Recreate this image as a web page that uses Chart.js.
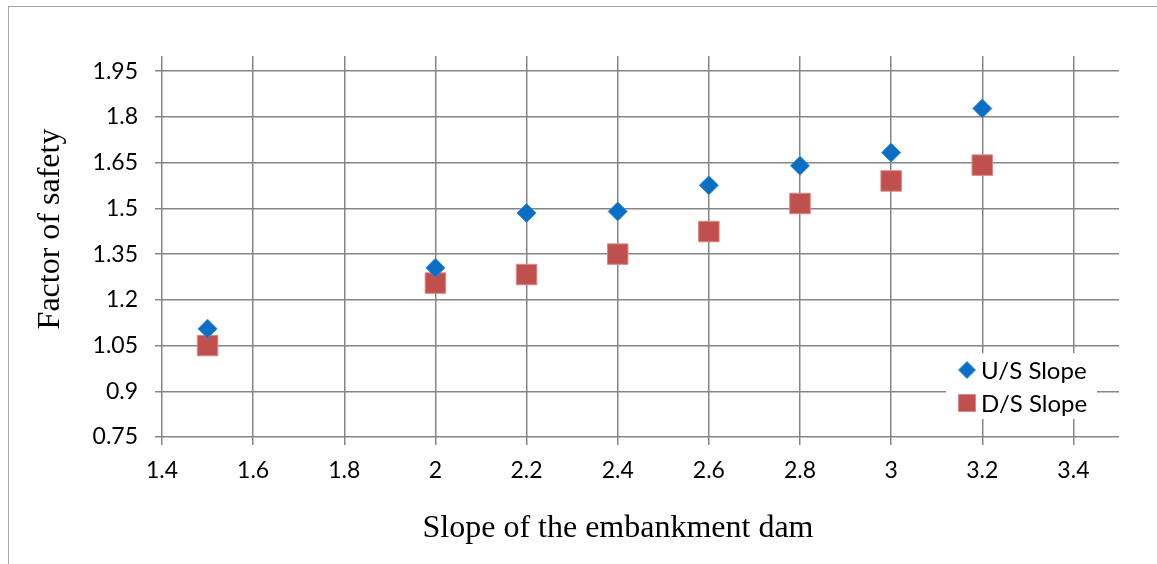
<!DOCTYPE html>
<html>
<head>
<meta charset="utf-8">
<script src="https://cdn.jsdelivr.net/npm/chart.js@4.4.1/dist/chart.umd.min.js"></script>
<style>
  html, body { margin: 0; padding: 0; background: #fff; overflow: hidden; }
  #wrap { position: relative; width: 1157px; height: 564px; }
  #frame { position: absolute; left: 8px; top: 6px; width: 1300px; height: 700px;
           border-top: 1px solid #a6a6a6; border-left: 1px solid #a6a6a6; }
  canvas { position: absolute; left: 0; top: 0; }
</style>
</head>
<body>
<div id="wrap">
  <div id="frame"></div>
  <canvas id="chart" width="1157" height="564"></canvas>
</div>
<script>
// slope ratio (H:V) vs factor of safety
const slopes = [1.5, 2, 2.2, 2.4, 2.6, 2.8, 3, 3.2];
const usFos = [1.105, 1.305, 1.485, 1.49, 1.576, 1.64, 1.683, 1.828];
const dsFos = [1.05, 1.255, 1.283, 1.35, 1.424, 1.516, 1.59, 1.642];

const xTicks = [1.4, 1.6, 1.8, 2, 2.2, 2.4, 2.6, 2.8, 3, 3.2, 3.4];
const xTickLabels = ['1.4', '1.6', '1.8', '2', '2.2', '2.4', '2.6', '2.8', '3', '3.2', '3.4'];
const yTicks = [0.75, 0.9, 1.05, 1.2, 1.35, 1.5, 1.65, 1.8, 1.95];
const yTickLabels = ['0.75', '0.9', '1.05', '1.2', '1.35', '1.5', '1.65', '1.8', '1.95'];

const seriesNames = ['U/S Slope', 'D/S Slope'];
const xTitle = 'Slope of the embankment dam';
const yTitle = 'Factor of safety';

const BLUE = '#0a6fc4';
const RED = '#c0504d';
const GRID = '#858585';
const TICK_FONT = { family: 'Lato', size: 23 };

const toPoints = (ys) => slopes.map((x, i) => ({ x: x, y: ys[i] }));

// axis titles and the legend box sitting inside the plot
const extras = {
  id: 'extras',
  afterDraw(chart) {
    const ctx = chart.ctx;
    const h = Chart.helpers;
    ctx.save();
    ctx.fillStyle = '#000';
    ctx.font = '32px "Liberation Serif"';
    ctx.textAlign = 'center';
    ctx.textBaseline = 'alphabetic';
    ctx.fillText(xTitle, 618, 537);
    ctx.save();
    ctx.translate(59, 229);
    ctx.rotate(-Math.PI / 2);
    ctx.fillText(yTitle, 0, 0);
    ctx.restore();

    ctx.fillStyle = '#fff';
    ctx.fillRect(946, 353, 151, 66);

    ctx.fillStyle = BLUE;
    ctx.strokeStyle = '#3a8ad6';
    ctx.lineWidth = 1;
    h.drawPoint(ctx, { pointStyle: 'rectRot', radius: 8.5, rotation: 0, borderWidth: 1 }, 967, 370);
    ctx.fillStyle = RED;
    ctx.strokeStyle = '#d98a88';
    h.drawPoint(ctx, { pointStyle: 'rect', radius: 12, rotation: 0, borderWidth: 1 }, 967, 403);

    ctx.fillStyle = '#000';
    ctx.font = '24px Lato';
    ctx.textAlign = 'left';
    ctx.textBaseline = 'middle';
    ctx.fillText(seriesNames[0], 981, 371);
    ctx.fillText(seriesNames[1], 981, 404);
    ctx.restore();
  }
};

new Chart(document.getElementById('chart'), {
  type: 'scatter',
  data: {
    datasets: [
      {
        label: seriesNames[0],
        data: toPoints(usFos),
        pointStyle: 'rectRot',
        pointRadius: 9.5,
        pointHoverRadius: 9.5,
        backgroundColor: BLUE,
        borderColor: '#3a8ad6',
        borderWidth: 1
      },
      {
        label: seriesNames[1],
        data: toPoints(dsFos),
        pointStyle: 'rect',
        pointRadius: 14.5,
        pointHoverRadius: 14.5,
        backgroundColor: RED,
        borderColor: '#d98a88',
        borderWidth: 1
      }
    ]
  },
  options: {
    responsive: false,
    animation: false,
    layout: { padding: { left: 0, right: 38, top: 56, bottom: 0 } },
    plugins: {
      legend: { display: false },
      tooltip: { enabled: false }
    },
    scales: {
      x: {
        type: 'linear',
        min: 1.4,
        max: 3.5,
        afterBuildTicks: (scale) => { scale.ticks = xTicks.map(v => ({ value: v })); },
        afterFit: (scale) => { scale.height = 127; },
        grid: { color: GRID, lineWidth: 1.5, tickLength: 8, tickColor: GRID },
        border: { display: false },
        ticks: {
          font: TICK_FONT,
          color: '#000',
          padding: 12,
          maxRotation: 0,
          autoSkip: false,
          callback: (v, i) => xTickLabels[i]
        }
      },
      y: {
        type: 'linear',
        min: 0.75,
        max: 2.0,
        afterBuildTicks: (scale) => { scale.ticks = yTicks.map(v => ({ value: v })); },
        afterFit: (scale) => { scale.width = 162; },
        grid: { color: GRID, lineWidth: 1.5, tickLength: 7, tickColor: GRID },
        border: { display: false },
        ticks: {
          font: TICK_FONT,
          color: '#000',
          padding: 17,
          autoSkip: false,
          callback: (v, i) => yTickLabels[i]
        }
      }
    }
  },
  plugins: [extras]
});
</script>
</body>
</html>
